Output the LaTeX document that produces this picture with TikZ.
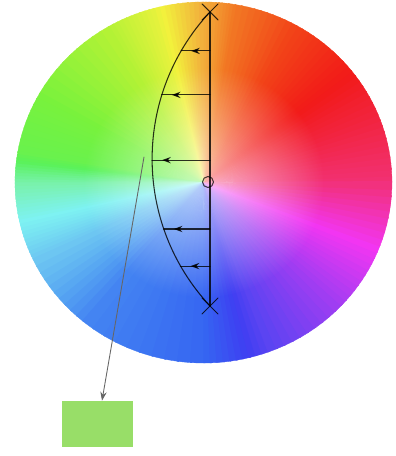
\documentclass[tikz,border=0pt]{standalone}
\usetikzlibrary{arrows.meta,shapes.misc,fadings,decorations.markings}
\tikzfading[name=wheel fade,inner color=transparent!35,outer color=transparent!100]
\definecolor{swatchgreen}{RGB}{152,222,104}

\begin{document}
\begin{tikzpicture}[line cap=round,line join=round,
  >={Stealth[length=5pt,width=3.6pt]},
  guide/.style={line width=0.6pt,draw=black,opacity=0.8},
  push/.style={guide,postaction={decorate},
    decoration={markings,mark=at position -0.2cm with {\arrow{>}}}},
  feed/.style={line width=0.5pt,draw=black!60,->},
  mark x/.style={cross out,draw=black,opacity=0.8,line width=0.6pt,minimum size=0.3cm,inner sep=0pt}]
  \useasboundingbox (0,0) rectangle (7.90,9.12);
  % hue wheel
  \begin{scope}[shift={(4.07,5.47)},xscale=1.044]
    \foreach \ta/\tb/\ha/\hb/\sa/\sb in {0/20/340/352/0.8/0.85,20/40/352/362/0.85/0.9,
      40/60/362/372/0.9/0.9,60/80/372/385/0.9/0.85,80/90/385/398/0.85/0.75,
      90/105/398/425/0.75/0.75,105/120/425/440/0.75/0.78,120/150/440/460/0.78/0.75,
      150/170/460/470/0.75/0.68,170/180/470/505/0.68/0.5,180/192/505/540/0.5/0.48,
      192/205/540/560/0.48/0.55,205/230/560/578/0.55/0.72,230/270/578/585/0.72/0.78,
      270/290/585/608/0.78/0.72,290/317/608/635/0.72/0.75,317/337/635/660/0.75/0.78,
      337/360/660/700/0.78/0.8}
      \foreach \k in {0,...,9}{
        \pgfmathsetmacro\a{\ta+(\tb-\ta)*\k/10}
        \pgfmathsetmacro\d{(\tb-\ta)/10+0.5}
        \pgfmathsetmacro\h{mod(\ha+(\hb-\ha)*\k/10,360)}
        \pgfmathsetmacro\s{\sa+(\sb-\sa)*\k/10}
        \definecolor{wedge}{Hsb}{\h,\s,0.95}
        \filldraw[wedge,line width=0.2pt] (0,0) -- (\a:3.61) arc[start angle=\a,delta angle=\d,radius=3.61] -- cycle;
      }
    \fill[white,path fading=wheel fade] (0,0) circle (2.3);
  \end{scope}
  % axis and bow
  \node[mark x] (T) at (4.20,8.88) {};
  \node[mark x] (B) at (4.20,3.00) {};
  \coordinate (K) at (7.35,5.94);
  \draw[guide] (T.center) -- (B.center);
  \draw[guide] (T.center) arc (137:223:4.31);
  \foreach \ang [count=\i] in {149.9,162.7,180.3,198.95,209.8}
    \path (K) ++(\ang:4.31) coordinate (b\i);
  \foreach \i in {1,...,5}
    \draw[push] (T |- b\i) -- (b\i);
  \node[circle,draw=black,opacity=0.7,line width=0.6pt,minimum size=0.22cm,inner sep=0pt] (o) at (4.16,5.48) {};
  % picked colour
  \coordinate (pick) at (2.88,5.98);
  \node[fill=swatchgreen,minimum width=1.42cm,minimum height=0.92cm,inner sep=0pt] (swatch) at (1.95,0.64) {};
  \draw[feed] (pick) -- ([xshift=0.09cm]swatch.north);
\end{tikzpicture}
\end{document}
